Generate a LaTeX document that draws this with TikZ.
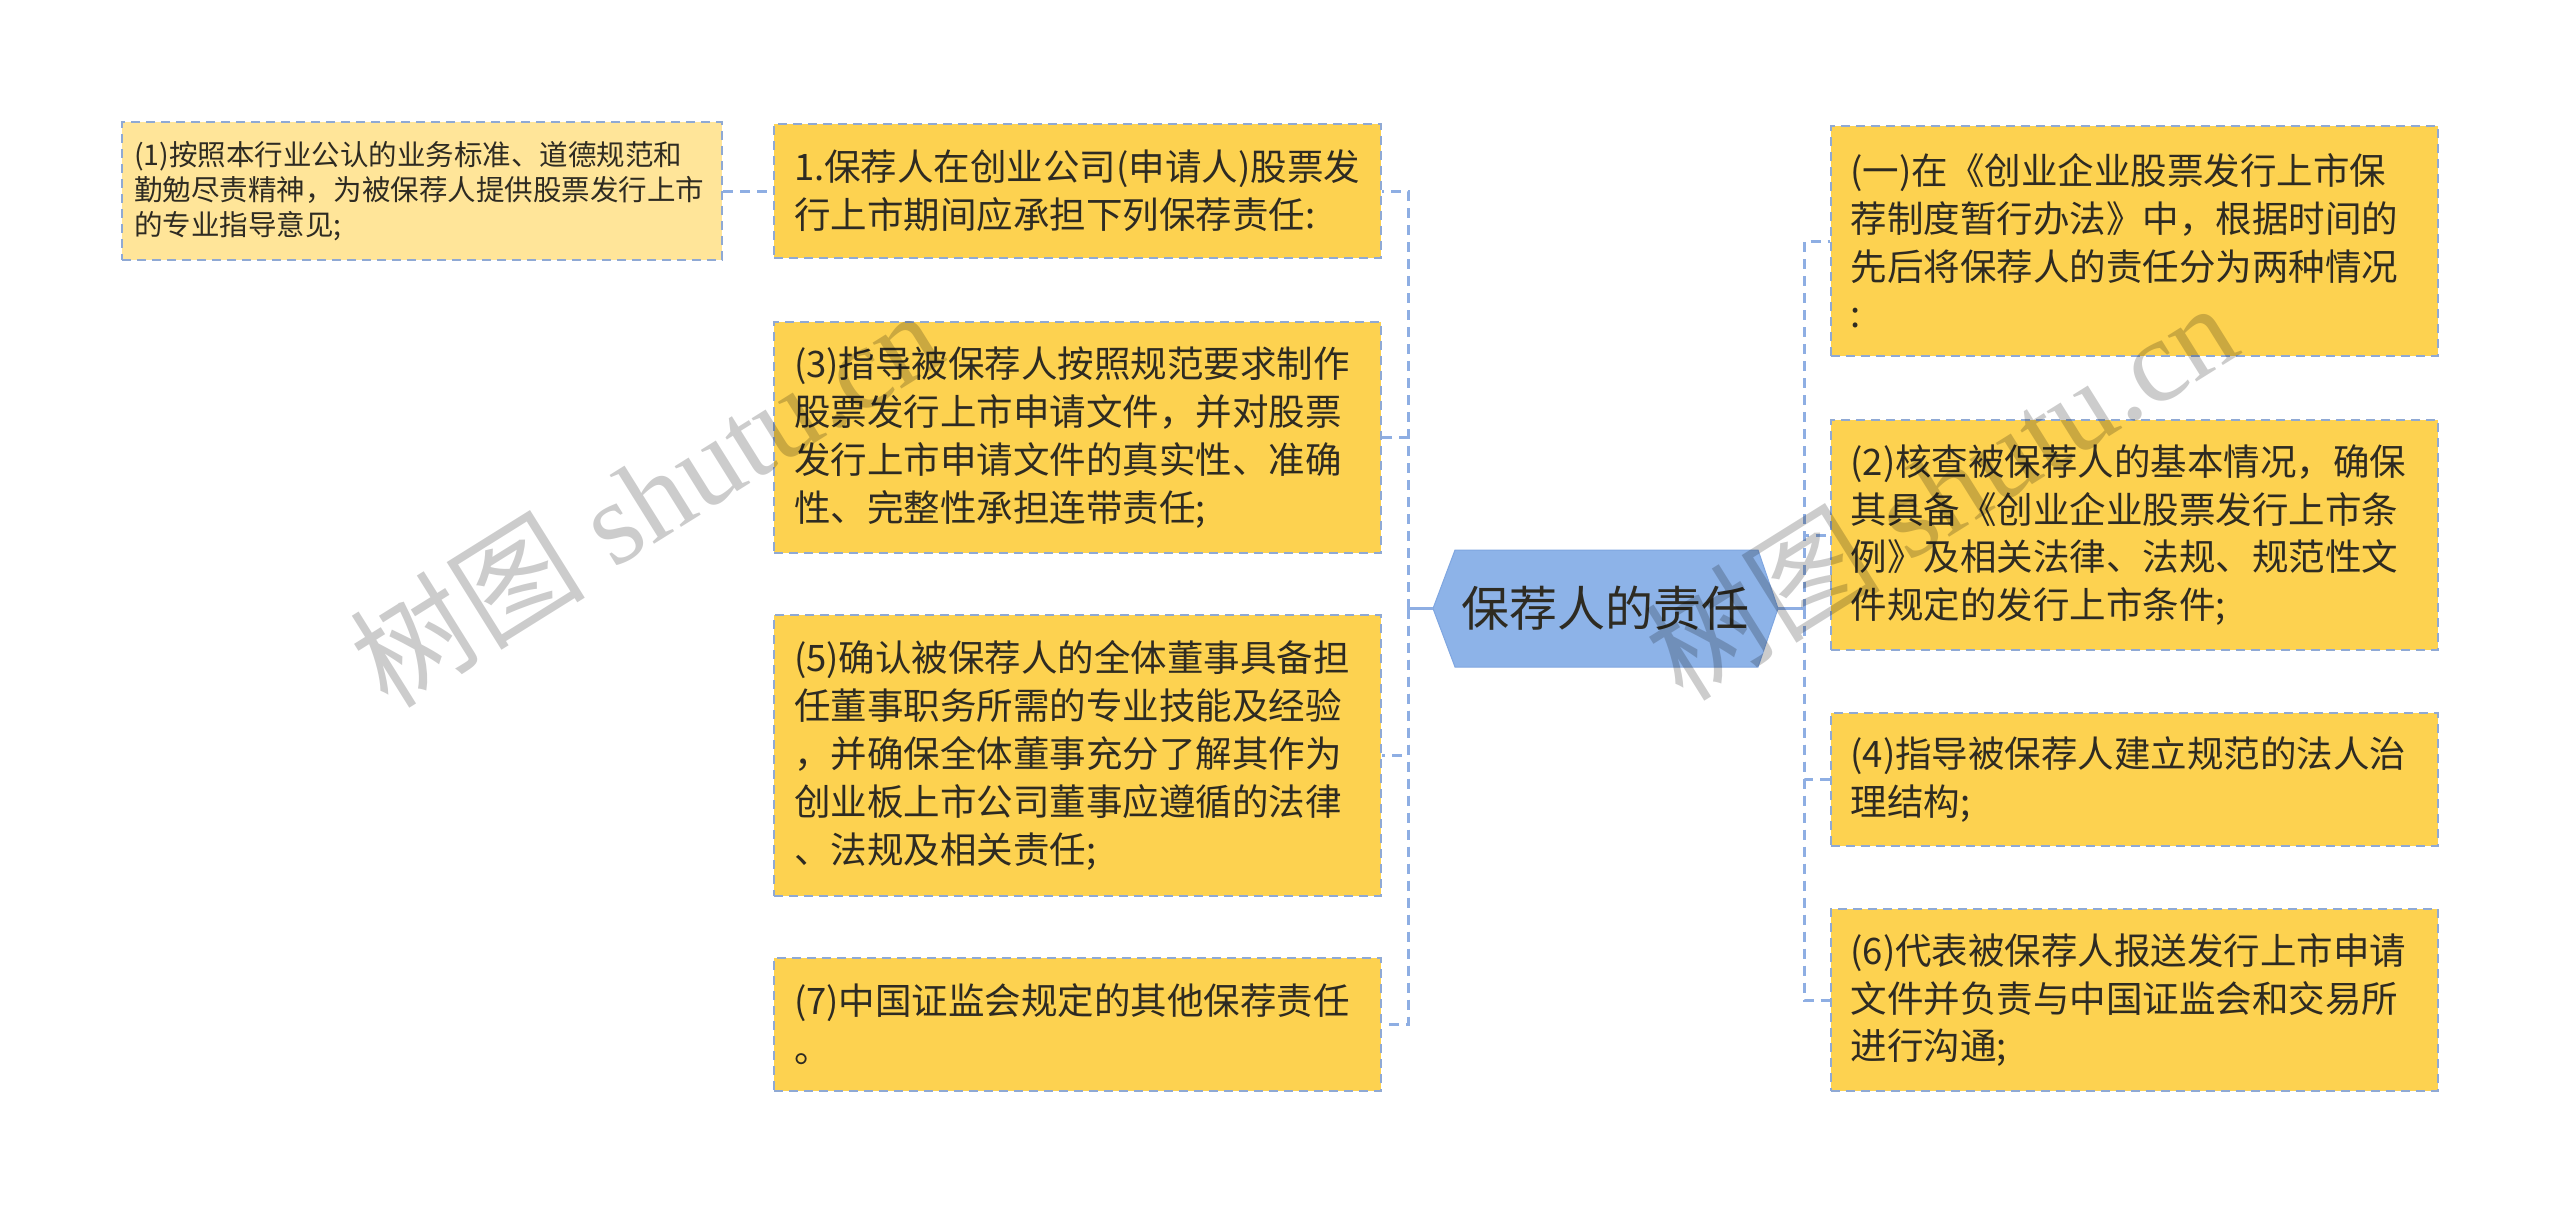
\documentclass[tikz,border=0pt]{standalone}
\usepackage{fontspec}
\newfontfamily\cjk{Noto Sans CJK SC}
\newfontfamily\wmfont{Liberation Serif}
\usetikzlibrary{calc}
\definecolor{boxfill}{HTML}{FDD250}
\definecolor{boxlight}{HTML}{FFE599}
\definecolor{boxline}{HTML}{8FA9D4}
\definecolor{connc}{HTML}{8EAEE3}
\definecolor{hubfill}{HTML}{8DB3E8}
\definecolor{hubline}{HTML}{7FA6E0}
\definecolor{txt}{HTML}{2E2B22}
\begin{document}
\begin{tikzpicture}[x=1pt,y=-1pt,
  box/.style={rectangle, draw=boxline, line width=2pt, dash pattern=on 9pt off 6pt,
    fill=boxfill, inner xsep=20pt, inner ysep=0pt, text width=567pt, align=left,
    font=\cjk\fontsize{36.5pt}{47.8pt}\selectfont, text=txt},
  smallbox/.style={box, fill=boxlight, inner xsep=12pt, text width=576pt,
    font=\cjk\fontsize{28.5pt}{35pt}\selectfont},
  conn/.style={draw=connc, line width=3pt, dash pattern=on 10pt off 7pt},
  solidconn/.style={draw=connc, line width=3pt},
  wm/.style={rotate=32, anchor=base west, text=black, opacity=0.2,
    font=\wmfont\fontsize{118pt}{118pt}\selectfont}
]
\useasboundingbox[fill=white] (0,0) rectangle (2560,1215);

% hub
\filldraw[fill=hubfill, draw=hubline, line width=1pt]
  (1433,608.5) -- (1455,550) -- (1758,550) -- (1778,608.5) -- (1758,667) -- (1455,667) -- cycle;
\node[font=\cjk\fontsize{48pt}{56pt}\selectfont, text=txt] (hub) at (1605.5,608.5) {保荐人的责任};
\coordinate (hubL) at (1433,608.5);
\coordinate (hubR) at (1778,608.5);
\coordinate (tl) at (1408,608.5);
\coordinate (tr) at (1804,608.5);

% left column
\node[box, minimum height=134pt] (L1) at (1077.5,191) {1.保荐人在创业公司(申请人)股票发\\行上市期间应承担下列保荐责任:};
\node[box, minimum height=231pt] (L3) at (1077.5,437.5) {(3)指导被保荐人按照规范要求制作\\股票发行上市申请文件，并对股票\\发行上市申请文件的真实性、准确\\性、完整性承担连带责任;};
\node[box, minimum height=281pt] (L5) at (1077.5,755.5) {(5)确认被保荐人的全体董事具备担\\任董事职务所需的专业技能及经验\\，并确保全体董事充分了解其作为\\创业板上市公司董事应遵循的法律\\、法规及相关责任;};
\node[box, minimum height=133pt] (L7) at (1077.5,1024.5) {(7)中国证监会规定的其他保荐责任\\。};

% far left
\node[smallbox, minimum height=138pt] (F1) at (422,191) {(1)按照本行业公认的业务标准、道德规范和\\勤勉尽责精神，为被保荐人提供股票发行上市\\的专业指导意见;};

% right column
\node[box, minimum height=230pt] (R1) at (2134,241) {(一)在《创业企业股票发行上市保\\荐制度暂行办法》中，根据时间的\\先后将保荐人的责任分为两种情况\\:};
\node[box, minimum height=230pt] (R2) at (2134,535) {(2)核查被保荐人的基本情况，确保\\其具备《创业企业股票发行上市条\\例》及相关法律、法规、规范性文\\件规定的发行上市条件;};
\node[box, minimum height=133pt] (R4) at (2134,779.5) {(4)指导被保荐人建立规范的法人治\\理结构;};
\node[box, minimum height=182pt] (R6) at (2134,1000) {(6)代表被保荐人报送发行上市申请\\文件并负责与中国证监会和交易所\\进行沟通;};

% connectors
\draw[solidconn] (hubL) -- (tl);
\draw[solidconn] (hubR) -- (tr);
\foreach \n in {L1,L3,L5,L7} \draw[conn] (tl) |- (\n.east);
\foreach \n in {R1,R2,R4,R6} \draw[conn] (tr) |- (\n.west);
\draw[conn] (F1.east) -- (L1.west);

% watermarks
\node[wm] (wm1) at (385,712) {{\cjk 树图} shutu.cn};
\node[wm] (wm2) at (1680,705) {{\cjk 树图} shutu.cn};
\end{tikzpicture}
\end{document}
